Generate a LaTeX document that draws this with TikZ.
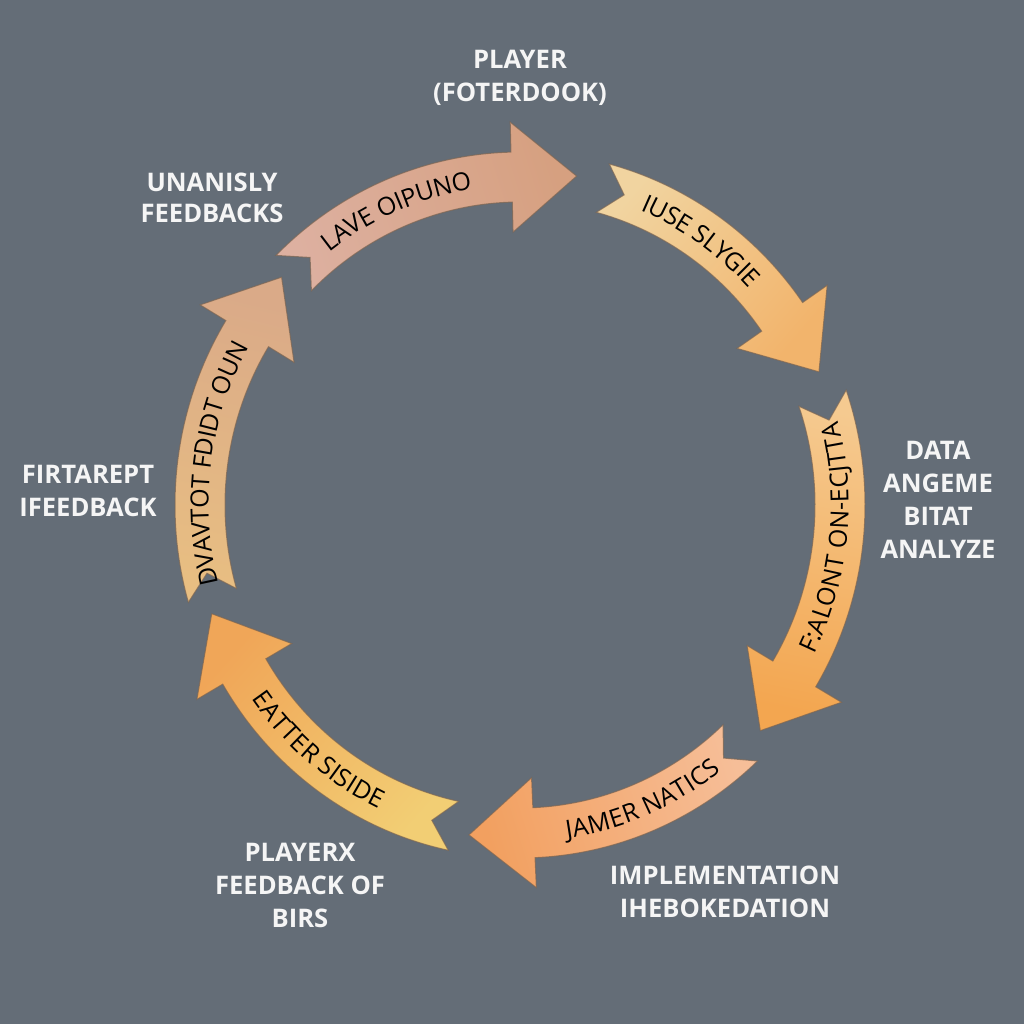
\documentclass[tikz,border=0pt]{standalone}
\usepackage{fontspec}
\setmainfont{Open Sans}
\usetikzlibrary{decorations.text}
\definecolor{bg}{HTML}{646D77}
\definecolor{labwhite}{HTML}{F5F5F5}
\definecolor{edge}{HTML}{7A6452}
\definecolor{tailA}{HTML}{DDB0A0}\definecolor{tipA}{HTML}{D6A080}
\definecolor{tailB}{HTML}{F1D4A0}\definecolor{tipB}{HTML}{F2B46C}
\definecolor{tailC}{HTML}{F5CA90}\definecolor{tipC}{HTML}{F3A650}
\definecolor{tailD}{HTML}{F6BE98}\definecolor{tipD}{HTML}{F2A060}
\definecolor{tailE}{HTML}{F2CE74}\definecolor{tipE}{HTML}{F0A658}
\definecolor{tailF}{HTML}{E8BE82}\definecolor{tipF}{HTML}{DAAA88}
\newcommand\arrowfont{\fontsize{12.5}{15}\selectfont}
\newcommand\RX{320}\newcommand\RY{328}
% #1 tail angle, #2 tip angle, #3 tail colour, #4 tip colour, #5 text start, #6 text end, #7 text
\newcommand\ringarrow[7]{%
  \pgfmathsetmacro\ab{#2+11.5}%
  \pgfmathsetmacro\an{#1-4}%
  \pgfmathsetmacro\sh{(#1+#2)/2-180}%
  \path[arrowshape, top color=#4, bottom color=#3, shading angle=\sh]
    (#1:{\RX+25} and {\RY+25})
    arc[start angle=#1, end angle=\ab, x radius={\RX+25}, y radius={\RY+25}]
    -- (\ab:{\RX+55} and {\RY+55}) -- (#2:{\RX+6} and {\RY+6})
    -- (\ab:{\RX-55} and {\RY-55}) -- (\ab:{\RX-25} and {\RY-25})
    arc[start angle=\ab, end angle=#1, x radius={\RX-25}, y radius={\RY-25}]
    -- (\an:{\RX} and {\RY}) -- cycle;
  \path[decorate, decoration={text along path, text={|\arrowfont|#7},
        text align=center, raise=-4.3pt}]
    (#5:{\RX} and {\RY}) arc[start angle=#5, end angle=#6, x radius={\RX}, y radius={\RY}];
}
\begin{document}
\begin{tikzpicture}[x=0.5pt,y=0.5pt,
  arrowshape/.style={draw=edge, draw opacity=0.7, line width=0.5pt, line join=miter},
  lab/.style={text=labwhite, font=\bfseries\fontsize{12.8}{16.5}\selectfont, align=center, inner sep=0pt}]
\useasboundingbox[fill=bg] (0,0) rectangle (1024,1024);
\begin{scope}[shift={(520,519)}]
  \ringarrow{135}{80}{tailA}{tipA}{135}{91.5}{LAVE OIPUNO}
  \ringarrow{75}{23.5}{tailB}{tipB}{75}{35}{IUSE SLYGIE}
  \ringarrow{19}{-42.5}{tailC}{tipC}{-31}{19}{F:ALONT ON-ECJTTA}
  \ringarrow{-46.5}{-99}{tailD}{tipD}{-87.5}{-46.5}{JAMER NATICS}
  \ringarrow{-102}{-161}{tailE}{tipE}{-155}{-105}{EATTER SISIDE}
  \ringarrow{196}{137}{tailF}{tipF}{196}{148.5}{DVAVTOT FDIDT OUN}
\end{scope}
\node[lab] (top) at (520,946) {PLAYER\\(FOTERDOOK)};
\node[lab, font=\bfseries\fontsize{12.8}{15.5}\selectfont] (topleft) at (212,826) {UNANISLY\\FEEDBACKS};
\node[lab] (right) at (938,524) {DATA\\ANGEME\\BITAT\\ANALYZE};
\node[lab] (left) at (88,533) {FIRTAREPT\\IFEEDBACK};
\node[lab] (bottomleft) at (300,139) {PLAYERX\\FEEDBACK OF\\BIRS};
\node[lab] (bottomright) at (725,132) {IMPLEMENTATION\\IHEBOKEDATION};
\end{tikzpicture}
\end{document}
